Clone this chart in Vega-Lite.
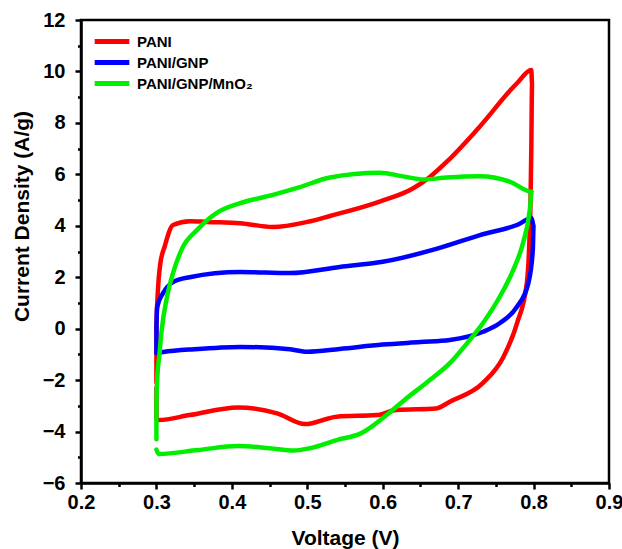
{
  "$schema": "https://vega.github.io/schema/vega-lite/v6.json",
  "autosize": "none",
  "width": 528,
  "height": 463,
  "padding": {"left": 81, "top": 20, "right": 13, "bottom": 66},
  "background": "white",
  "config": {
    "view": {"stroke": "black", "strokeWidth": 2.5},
    "font": "Liberation Sans"
  },
  "data": {"values": [
    {"s":"PANI","o":1,"v":0.3,"c":-2.1},{"s":"PANI","o":2,"v":0.3,"c":0.0},{"s":"PANI","o":3,"v":0.302,"c":1.5},{"s":"PANI","o":4,"v":0.305,"c":2.5},{"s":"PANI","o":5,"v":0.311,"c":3.2},{"s":"PANI","o":6,"v":0.322,"c":4.03},{"s":"PANI","o":7,"v":0.3445,"c":4.18},{"s":"PANI","o":8,"v":0.367,"c":4.15},{"s":"PANI","o":9,"v":0.411,"c":4.1},{"s":"PANI","o":10,"v":0.4545,"c":3.95},{"s":"PANI","o":11,"v":0.5,"c":4.15},{"s":"PANI","o":12,"v":0.53,"c":4.38},{"s":"PANI","o":13,"v":0.596,"c":4.94},{"s":"PANI","o":14,"v":0.6405,"c":5.46},{"s":"PANI","o":15,"v":0.663,"c":5.91},{"s":"PANI","o":16,"v":0.685,"c":6.49},{"s":"PANI","o":17,"v":0.7246,"c":7.72},{"s":"PANI","o":18,"v":0.778,"c":9.54},{"s":"PANI","o":19,"v":0.797,"c":10.06},{"s":"PANI","o":20,"v":0.798,"c":9.5},{"s":"PANI","o":21,"v":0.797,"c":7.0},{"s":"PANI","o":22,"v":0.796,"c":5.0},{"s":"PANI","o":23,"v":0.794,"c":3.06},{"s":"PANI","o":24,"v":0.791,"c":1.76},{"s":"PANI","o":25,"v":0.778,"c":0.21},{"s":"PANI","o":26,"v":0.76,"c":-1.1},{"s":"PANI","o":27,"v":0.733,"c":-2.11},{"s":"PANI","o":28,"v":0.689,"c":-2.84},{"s":"PANI","o":29,"v":0.671,"c":-3.1},{"s":"PANI","o":30,"v":0.618,"c":-3.16},{"s":"PANI","o":31,"v":0.592,"c":-3.36},{"s":"PANI","o":32,"v":0.539,"c":-3.42},{"s":"PANI","o":33,"v":0.497,"c":-3.71},{"s":"PANI","o":34,"v":0.46,"c":-3.29},{"s":"PANI","o":35,"v":0.408,"c":-3.06},{"s":"PANI","o":36,"v":0.344,"c":-3.36},{"s":"PANI","o":37,"v":0.303,"c":-3.55},{"s":"PANI","o":38,"v":0.3,"c":-3.5},{"s":"PANI","o":39,"v":0.3,"c":-2.3},
    {"s":"PANI/GNP","o":1,"v":0.3,"c":-0.95},{"s":"PANI/GNP","o":2,"v":0.3,"c":0.0},{"s":"PANI/GNP","o":3,"v":0.301,"c":0.84},{"s":"PANI/GNP","o":4,"v":0.309,"c":1.39},{"s":"PANI/GNP","o":5,"v":0.322,"c":1.81},{"s":"PANI/GNP","o":6,"v":0.344,"c":2.0},{"s":"PANI/GNP","o":7,"v":0.411,"c":2.2},{"s":"PANI/GNP","o":8,"v":0.477,"c":2.16},{"s":"PANI/GNP","o":9,"v":0.543,"c":2.4},{"s":"PANI/GNP","o":10,"v":0.6,"c":2.6},{"s":"PANI/GNP","o":11,"v":0.671,"c":3.1},{"s":"PANI/GNP","o":12,"v":0.729,"c":3.64},{"s":"PANI/GNP","o":13,"v":0.778,"c":4.03},{"s":"PANI/GNP","o":14,"v":0.7975,"c":4.29},{"s":"PANI/GNP","o":15,"v":0.8,"c":4.0},{"s":"PANI/GNP","o":16,"v":0.799,"c":3.06},{"s":"PANI/GNP","o":17,"v":0.793,"c":1.76},{"s":"PANI/GNP","o":18,"v":0.778,"c":0.85},{"s":"PANI/GNP","o":19,"v":0.755,"c":0.21},{"s":"PANI/GNP","o":20,"v":0.733,"c":-0.12},{"s":"PANI/GNP","o":21,"v":0.689,"c":-0.44},{"s":"PANI/GNP","o":22,"v":0.65,"c":-0.52},{"s":"PANI/GNP","o":23,"v":0.6,"c":-0.62},{"s":"PANI/GNP","o":24,"v":0.543,"c":-0.79},{"s":"PANI/GNP","o":25,"v":0.5,"c":-0.9},{"s":"PANI/GNP","o":26,"v":0.477,"c":-0.8},{"s":"PANI/GNP","o":27,"v":0.411,"c":-0.71},{"s":"PANI/GNP","o":28,"v":0.35,"c":-0.8},{"s":"PANI/GNP","o":29,"v":0.309,"c":-0.91},{"s":"PANI/GNP","o":30,"v":0.3,"c":-0.95},
    {"s":"PANI/GNP/MnO₂","o":1,"v":0.3,"c":-4.3},{"s":"PANI/GNP/MnO₂","o":2,"v":0.3,"c":-3.0},{"s":"PANI/GNP/MnO₂","o":3,"v":0.301,"c":-2.0},{"s":"PANI/GNP/MnO₂","o":4,"v":0.304,"c":-1.0},{"s":"PANI/GNP/MnO₂","o":5,"v":0.307,"c":-0.05},{"s":"PANI/GNP/MnO₂","o":6,"v":0.314,"c":1.23},{"s":"PANI/GNP/MnO₂","o":7,"v":0.322,"c":2.16},{"s":"PANI/GNP/MnO₂","o":8,"v":0.335,"c":3.17},{"s":"PANI/GNP/MnO₂","o":9,"v":0.354,"c":3.84},{"s":"PANI/GNP/MnO₂","o":10,"v":0.38,"c":4.5},{"s":"PANI/GNP/MnO₂","o":11,"v":0.411,"c":4.88},{"s":"PANI/GNP/MnO₂","o":12,"v":0.4545,"c":5.2},{"s":"PANI/GNP/MnO₂","o":13,"v":0.49,"c":5.5},{"s":"PANI/GNP/MnO₂","o":14,"v":0.53,"c":5.88},{"s":"PANI/GNP/MnO₂","o":15,"v":0.596,"c":6.06},{"s":"PANI/GNP/MnO₂","o":16,"v":0.627,"c":5.92},{"s":"PANI/GNP/MnO₂","o":17,"v":0.654,"c":5.8},{"s":"PANI/GNP/MnO₂","o":18,"v":0.685,"c":5.88},{"s":"PANI/GNP/MnO₂","o":19,"v":0.729,"c":5.93},{"s":"PANI/GNP/MnO₂","o":20,"v":0.769,"c":5.71},{"s":"PANI/GNP/MnO₂","o":21,"v":0.7975,"c":5.32},{"s":"PANI/GNP/MnO₂","o":22,"v":0.795,"c":4.61},{"s":"PANI/GNP/MnO₂","o":23,"v":0.786,"c":3.33},{"s":"PANI/GNP/MnO₂","o":24,"v":0.773,"c":2.28},{"s":"PANI/GNP/MnO₂","o":25,"v":0.755,"c":1.23},{"s":"PANI/GNP/MnO₂","o":26,"v":0.733,"c":0.22},{"s":"PANI/GNP/MnO₂","o":27,"v":0.712,"c":-0.56},{"s":"PANI/GNP/MnO₂","o":28,"v":0.689,"c":-1.34},{"s":"PANI/GNP/MnO₂","o":29,"v":0.66,"c":-2.05},{"s":"PANI/GNP/MnO₂","o":30,"v":0.629,"c":-2.77},{"s":"PANI/GNP/MnO₂","o":31,"v":0.608,"c":-3.29},{"s":"PANI/GNP/MnO₂","o":32,"v":0.571,"c":-4.07},{"s":"PANI/GNP/MnO₂","o":33,"v":0.539,"c":-4.33},{"s":"PANI/GNP/MnO₂","o":34,"v":0.503,"c":-4.65},{"s":"PANI/GNP/MnO₂","o":35,"v":0.482,"c":-4.74},{"s":"PANI/GNP/MnO₂","o":36,"v":0.45,"c":-4.65},{"s":"PANI/GNP/MnO₂","o":37,"v":0.408,"c":-4.56},{"s":"PANI/GNP/MnO₂","o":38,"v":0.355,"c":-4.72},{"s":"PANI/GNP/MnO₂","o":39,"v":0.303,"c":-4.87},{"s":"PANI/GNP/MnO₂","o":40,"v":0.3,"c":-4.7}
  ]},
  "mark": {"type": "line", "strokeWidth": 4.5, "interpolate": "monotone", "strokeCap": "round", "strokeJoin": "round"},
  "encoding": {
    "x": {
      "field": "v", "type": "quantitative",
      "scale": {"domain": [0.2, 0.9], "nice": false, "zero": false},
      "axis": {
        "title": "Voltage (V)",
        "values": [0.2,0.25,0.3,0.35,0.4,0.45,0.5,0.55,0.6,0.65,0.7,0.75,0.8,0.85,0.9],
        "labelExpr": "abs(datum.value*10 - round(datum.value*10)) < 0.01 ? format(datum.value, '.1f') : ''",
        "tickSize": {"condition": {"test": "abs(datum.value*10 - round(datum.value*10)) < 0.01", "value": 6}, "value": 3.5},
        "tickWidth": 2.5, "tickColor": "black",
        "domainColor": "black", "domainWidth": 2.5,
        "grid": false,
        "labelFont": "Liberation Sans", "labelFontSize": 20, "labelFontWeight": "bold", "labelColor": "black",
        "labelPadding": 3, "labelFlush": false, "labelOverlap": false,
        "titleFont": "Liberation Sans", "titleFontSize": 21, "titleFontWeight": "bold", "titleColor": "black",
        "titlePadding": 15
      }
    },
    "y": {
      "field": "c", "type": "quantitative",
      "scale": {"domain": [-6, 12], "nice": false, "zero": false},
      "axis": {
        "title": "Current Density (A/g)",
        "values": [-6,-5,-4,-3,-2,-1,0,1,2,3,4,5,6,7,8,9,10,11,12],
        "labelExpr": "datum.value % 2 == 0 ? format(datum.value, 'd') : ''",
        "tickSize": {"condition": {"test": "datum.value % 2 == 0", "value": 6}, "value": 3.5},
        "tickWidth": 2.5, "tickColor": "black",
        "domainColor": "black", "domainWidth": 2.5,
        "grid": false,
        "labelFont": "Liberation Sans", "labelFontSize": 20, "labelFontWeight": "bold", "labelColor": "black",
        "labelPadding": 10, "labelFlush": false, "labelOverlap": false,
        "titleFont": "Liberation Sans", "titleFontSize": 21, "titleFontWeight": "bold", "titleColor": "black",
        "titlePadding": 10, "titleY": 196
      }
    },
    "color": {
      "field": "s", "type": "nominal",
      "scale": {"domain": ["PANI", "PANI/GNP", "PANI/GNP/MnO₂"], "range": ["#ff0000", "#0000ff", "#00ee00"]},
      "legend": {
        "title": null,
        "orient": "none", "legendX": 11, "legendY": 11,
        "symbolType": "stroke", "symbolSize": 1200, "symbolStrokeWidth": 5,
        "clipHeight": 21, "rowPadding": 0,
        "labelFont": "Liberation Sans", "labelFontSize": 15, "labelFontWeight": "bold", "labelColor": "black",
        "labelOffset": 5
      }
    },
    "order": {"field": "o", "type": "quantitative"}
  }
}
